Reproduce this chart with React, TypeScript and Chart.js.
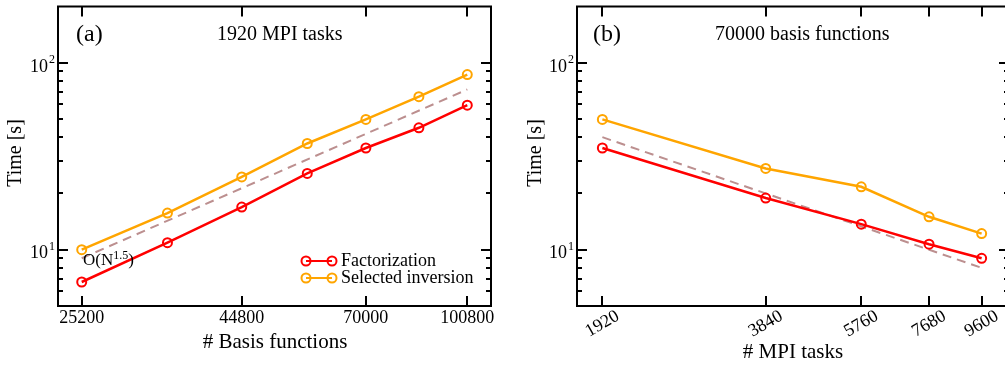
import React, { useEffect, useRef } from "react";
import { Chart, registerables } from "chart.js";

Chart.register(...registerables);

// ---------- data ----------
const basisFunctions = [25200, 34300, 44800, 56700, 70000, 84700, 100800];
const factorizationA = [6.72, 10.9, 16.9, 25.6, 35.0, 44.9, 59.3];
const selectedInvA = [10.0, 15.7, 24.5, 37.0, 49.8, 65.9, 86.5];
const refAx = [25200, 100800];
const refAy = [9.0, 72.0];

const mpiTasks = [1920, 3840, 5760, 7680, 9600];
const factorizationB = [35.0, 18.9, 13.7, 10.7, 9.0];
const selectedInvB = [49.8, 27.2, 21.7, 15.0, 12.2];
const refBx = [1920, 9600];
const refBy = [40, 8];

const xTicksA = [25200, 44800, 70000, 100800];
const xTicksB = [1920, 3840, 5760, 7680, 9600];
const yMajorTicks = [10, 100];
const yMinorTicks = [6, 7, 8, 9, 20, 30, 40, 50, 60, 70, 80, 90];
const seriesLabels = ["Factorization", "Selected inversion"];

// ---------- style ----------
const FONT = '"Liberation Serif", "Times New Roman", serif';
const RED = "#ff0000";
const ORANGE = "#ffa500";
const REF = "#bc8f8f";
const MAJOR = 10;
const MINOR = 5;

type PanelCfg = {
  tag: string;
  tagX: number;
  title: string;
  titleX: number;
  xTicks: number[];
  rotate: boolean;
  xTitle: string;
  xTitleX: number;
  xTitleY: number;
  yTitleX: number;
  legend: boolean;
  note: boolean;
};

function drawPow(ctx: CanvasRenderingContext2D, base: string, exp: string, rightX: number, y: number, baseSize: number, expSize: number) {
  ctx.font = `${expSize}px ${FONT}`;
  const ew = ctx.measureText(exp).width;
  ctx.font = `${baseSize}px ${FONT}`;
  const bw = ctx.measureText(base).width;
  ctx.textAlign = "left";
  ctx.textBaseline = "middle";
  ctx.fillText(base, rightX - ew - 1 - bw, y + 4);
  ctx.font = `${expSize}px ${FONT}`;
  ctx.fillText(exp, rightX - ew, y - 3);
}

function makeFramePlugin(cfg: PanelCfg) {
  return {
    id: "frame",
    afterDraw(chart: any) {
      const { ctx, chartArea: a, scales } = chart;
      const xs = scales.x;
      const ys = scales.y;
      ctx.save();
      ctx.strokeStyle = "#000";
      ctx.fillStyle = "#000";
      ctx.lineWidth = 2;
      ctx.lineCap = "butt";
      ctx.strokeRect(a.left, a.top, a.right - a.left, a.bottom - a.top);
      ctx.beginPath();
      cfg.xTicks.forEach((v) => {
        const px = Math.round(xs.getPixelForValue(v));
        ctx.moveTo(px, a.bottom);
        ctx.lineTo(px, a.bottom - MAJOR);
        ctx.moveTo(px, a.top);
        ctx.lineTo(px, a.top + MAJOR);
      });
      yMajorTicks.forEach((v) => {
        const py = Math.round(ys.getPixelForValue(v));
        ctx.moveTo(a.left, py);
        ctx.lineTo(a.left + MAJOR, py);
        ctx.moveTo(a.right, py);
        ctx.lineTo(a.right - MAJOR, py);
      });
      yMinorTicks.forEach((v) => {
        const py = Math.round(ys.getPixelForValue(v));
        ctx.moveTo(a.left, py);
        ctx.lineTo(a.left + MINOR, py);
        ctx.moveTo(a.right, py);
        ctx.lineTo(a.right - MINOR, py);
      });
      ctx.stroke();

      // y tick labels
      yMajorTicks.forEach((v) => {
        const py = ys.getPixelForValue(v);
        drawPow(ctx, "10", String(Math.round(Math.log10(v))), a.left - 3, py, 18, 12);
      });

      // x tick labels
      ctx.font = `18px ${FONT}`;
      cfg.xTicks.forEach((v) => {
        const px = xs.getPixelForValue(v);
        if (cfg.rotate) {
          ctx.save();
          ctx.translate(px, a.bottom + 18);
          ctx.rotate(-Math.PI / 6);
          ctx.textAlign = "center";
          ctx.textBaseline = "middle";
          ctx.fillText(String(v), 0, 0);
          ctx.restore();
        } else {
          ctx.textAlign = "center";
          ctx.textBaseline = "middle";
          ctx.fillText(String(v), px, a.bottom + 12);
        }
      });

      // axis titles
      ctx.font = `21px ${FONT}`;
      ctx.textAlign = "center";
      ctx.textBaseline = "middle";
      ctx.fillText(cfg.xTitle, cfg.xTitleX, cfg.xTitleY);
      ctx.font = `20px ${FONT}`;
      ctx.save();
      ctx.translate(cfg.yTitleX, 153);
      ctx.rotate(-Math.PI / 2);
      ctx.fillText("Time [s]", 0, 0);
      ctx.restore();

      // panel tag and title
      ctx.textAlign = "left";
      ctx.fillText(cfg.title, cfg.titleX, 35);
      ctx.font = `24px ${FONT}`;
      ctx.fillText(cfg.tag, cfg.tagX, 35);

      // legend
      if (cfg.legend) {
        const colors = [RED, ORANGE];
        const rows = [261, 278];
        seriesLabels.forEach((lab, i) => {
          const y = rows[i];
          ctx.strokeStyle = colors[i];
          ctx.lineWidth = 2;
          ctx.beginPath();
          ctx.moveTo(306, y);
          ctx.lineTo(332, y);
          ctx.stroke();
          [306, 332].forEach((cx) => {
            ctx.beginPath();
            ctx.arc(cx, y, 4.5, 0, Math.PI * 2);
            ctx.stroke();
          });
          ctx.fillStyle = "#000";
          ctx.font = `18px ${FONT}`;
          ctx.textAlign = "left";
          ctx.textBaseline = "middle";
          ctx.fillText(lab, 341, y);
        });
      }

      // scaling note
      if (cfg.note) {
        ctx.fillStyle = "#000";
        ctx.textAlign = "left";
        ctx.textBaseline = "alphabetic";
        ctx.font = `17px ${FONT}`;
        const p1 = "O(N";
        ctx.fillText(p1, 83, 265);
        let x = 83 + ctx.measureText(p1).width;
        ctx.font = `12px ${FONT}`;
        ctx.fillText("1.5", x, 259);
        x += ctx.measureText("1.5").width;
        ctx.font = `17px ${FONT}`;
        ctx.fillText(")", x, 265);
      }
      ctx.restore();
    },
  };
}

function makeConfig(
  xs: number[],
  fact: number[],
  sel: number[],
  rx: number[],
  ry: number[],
  xmin: number,
  xmax: number,
  padding: { left: number; right: number; top: number; bottom: number },
  cfg: PanelCfg
): any {
  const pts = (x: number[], y: number[]) => x.map((v, i) => ({ x: v, y: y[i] }));
  const series = (label: string, color: string, data: any) => ({
    label,
    data,
    borderColor: color,
    borderWidth: 2.5,
    pointRadius: 4.5,
    pointBorderWidth: 2,
    pointBorderColor: color,
    pointBackgroundColor: "rgba(0,0,0,0)",
    tension: 0,
  });
  return {
    type: "line",
    data: {
      datasets: [
        series(seriesLabels[0], RED, pts(xs, fact)),
        series(seriesLabels[1], ORANGE, pts(xs, sel)),
        {
          label: "ref",
          data: pts(rx, ry),
          borderColor: REF,
          borderWidth: 2,
          borderDash: [9, 6],
          pointRadius: 0,
          tension: 0,
        },
      ],
    },
    options: {
      animation: false,
      responsive: false,
      maintainAspectRatio: false,
      events: [],
      layout: { padding },
      plugins: { legend: { display: false }, tooltip: { enabled: false } },
      scales: {
        x: { type: "logarithmic", min: xmin, max: xmax, display: false },
        y: { type: "logarithmic", min: 5, max: 200, display: false },
      },
    },
    plugins: [makeFramePlugin(cfg)],
  };
}

export default function App() {
  const leftRef = useRef<HTMLCanvasElement>(null);
  const rightRef = useRef<HTMLCanvasElement>(null);

  useEffect(() => {
    const left = new Chart(
      leftRef.current as HTMLCanvasElement,
      makeConfig(
        basisFunctions,
        factorizationA,
        selectedInvA,
        refAx,
        refAy,
        23140,
        109770,
        { left: 58, right: 9, top: 2, bottom: 59 },
        {
          tag: "(a)",
          tagX: 76,
          title: "1920 MPI tasks",
          titleX: 217,
          xTicks: xTicksA,
          rotate: false,
          xTitle: "# Basis functions",
          xTitleX: 275,
          xTitleY: 342,
          yTitleX: 16,
          legend: true,
          note: true,
        }
      )
    );
    const right = new Chart(
      rightRef.current as HTMLCanvasElement,
      makeConfig(
        mpiTasks,
        factorizationB,
        selectedInvB,
        refBx,
        refBy,
        1724,
        10782,
        { left: 77, right: 11, top: 2, bottom: 59 },
        {
          tag: "(b)",
          tagX: 93,
          title: "70000 basis functions",
          titleX: 215,
          xTicks: xTicksB,
          rotate: true,
          xTitle: "# MPI tasks",
          xTitleX: 293,
          xTitleY: 352,
          yTitleX: 36,
          legend: false,
          note: false,
        }
      )
    );
    return () => {
      left.destroy();
      right.destroy();
    };
  }, []);

  return (
    <div
      style={{
        position: "fixed",
        left: 0,
        top: 0,
        width: 1005,
        height: 365,
        overflow: "hidden",
        background: "#fff",
      }}
    >
      <canvas ref={leftRef} width={500} height={365} style={{ position: "absolute", left: 0, top: 0 }} />
      <canvas ref={rightRef} width={520} height={365} style={{ position: "absolute", left: 500, top: 0 }} />
    </div>
  );
}
